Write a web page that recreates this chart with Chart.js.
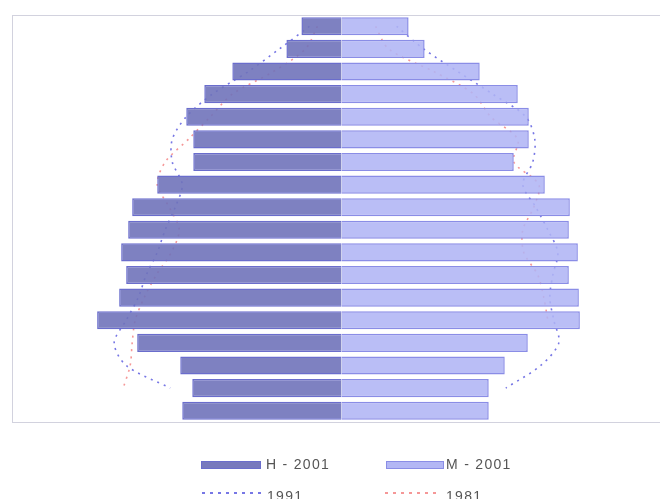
<!DOCTYPE html>
<html><head><meta charset="utf-8">
<script src="https://cdn.jsdelivr.net/npm/chart.js@4/dist/chart.umd.min.js"></script>
<style>
html,body{margin:0;padding:0;background:#fff;overflow:hidden;width:660px;height:499px;}
#wrap{position:absolute;left:0;top:0;width:672px;height:499px;}
.lg{position:absolute;font-family:"Liberation Sans",Arial,sans-serif;font-size:14px;line-height:14px;letter-spacing:1.3px;color:#555;white-space:nowrap;}
.sw{position:absolute;}
</style></head><body>
<div id="wrap"><canvas id="c" width="672" height="499"></canvas></div>
<div id="legend"></div>
<script>
// Age groups, oldest at the top
const ageGroups = ["85+","80-84","75-79","70-74","65-69","60-64","55-59","50-54","45-49","40-44","35-39","30-34","25-29","20-24","15-19","10-14","5-9","0-4"];
// 2001 bars (men left, women right)
const men2001   = [40,55,109,137,155,148,148,184,209,213,220,215,222,244,204,161,149,159];
const women2001 = [67,83,138,176,187,187,172,203,228,227,236,227,237,238,186,163,147,147];
// 1991 outline
const men1991   = [32,62,93,129,155,169,169,159,166,176,184,195,203,215,227,215,171,null];
const women1991 = [55,82,116,151,184,193,191,181,194,206,216,211,208,212,217,199,164,null];
// 1981 outline
const men1981   = [24,36,68,109,131,153,176,184,172,162,170,185,197,206,209,211,218,null];
const women1981 = [34,47,92,132,149,176,172,197,192,181,182,196,202,206,null,null,null,null];
const legendLabels = ["H - 2001","M - 2001","1991","1981"];

const C = {
  men: "#7779bd", menA: "rgba(112,115,186,0.9)", menBorder: "#6a6dcc",
  women: "#b3b7f4", womenA: "rgba(176,180,245,0.87)", womenBorder: "#8a8de6",
  y1991: "rgba(95,95,225,0.85)", y1981: "rgba(244,140,140,0.9)"
};
const neg = a => a.map(v => v === null ? null : -v);

const frame = {
  id: 'frame',
  beforeDatasetsDraw(chart) {
    const a = chart.chartArea, ctx = chart.ctx;
    ctx.save();
    ctx.strokeStyle = "#d2d2de";
    ctx.lineWidth = 1;
    ctx.strokeRect(Math.round(a.left) + 0.5, Math.round(a.top) + 0.5, Math.round(a.right - a.left), Math.round(a.bottom - a.top));
    ctx.restore();
  }
};

function lineDs(data, color, label) {
  return {
    type: 'line', label, data, indexAxis: 'y',
    borderColor: color, backgroundColor: color, borderWidth: 1.6,
    borderDash: [2, 5], pointRadius: 0, fill: false, tension: 0.3,
    order: 5
  };
}

new Chart(document.getElementById('c'), {
  type: 'bar',
  data: {
    labels: ageGroups,
    datasets: [
      { label: legendLabels[0], data: neg(men2001), backgroundColor: C.menA, borderColor: C.menBorder,
        borderWidth: 1.5, barPercentage: 0.8, categoryPercentage: 1, grouped: false, order: 1 },
      { label: legendLabels[1], data: women2001, backgroundColor: C.womenA, borderColor: C.womenBorder,
        borderWidth: 1.5, barPercentage: 0.8, categoryPercentage: 1, grouped: false, order: 1 },
      lineDs(neg(men1981), C.y1981, legendLabels[3]),
      lineDs(women1981, C.y1981, legendLabels[3]),
      lineDs(neg(men1991), C.y1991, legendLabels[2]),
      lineDs(women1991, C.y1991, legendLabels[2])
    ]
  },
  options: {
    indexAxis: 'y',
    responsive: false,
    animation: false,
    devicePixelRatio: 1,
    layout: { padding: { left: 12, top: 15, right: 1, bottom: 77 } },
    scales: {
      x: { type: 'linear', min: -329, max: 329, display: false },
      y: { type: 'category', offset: true, display: false }
    },
    plugins: { legend: { display: false }, tooltip: { enabled: false } }
  },
  plugins: [frame]
});

// HTML legend
const lg = document.getElementById('legend');
const items = [
  { label: legendLabels[0], kind: 'box', fill: C.men, border: C.menBorder, x: 201, w: 58, tx: 266, row: 0 },
  { label: legendLabels[1], kind: 'box', fill: C.women, border: C.womenBorder, x: 386, w: 56, tx: 446, row: 0 },
  { label: legendLabels[2], kind: 'dash', fill: C.y1991, x: 202, w: 60, tx: 267, row: 1 },
  { label: legendLabels[3], kind: 'dash', fill: C.y1981, x: 385, w: 55, tx: 446, row: 1 }
];
const rowTop = [457, 489];
const rowMid = [465, 493];
items.forEach(it => {
  const s = document.createElement('div');
  s.className = 'sw';
  s.style.left = it.x + 'px';
  s.style.width = it.w + 'px';
  if (it.kind === 'box') {
    s.style.top = (rowMid[it.row] - 4) + 'px';
    s.style.height = '6px';
    s.style.background = it.fill;
    s.style.border = '1px solid ' + it.border;
  } else {
    s.style.top = (rowMid[it.row] - 1) + 'px';
    s.style.height = '2px';
    s.style.background = 'repeating-linear-gradient(to right,' + it.fill + ' 0 3px, transparent 3px 8px)';
  }
  lg.appendChild(s);
  const t = document.createElement('div');
  t.className = 'lg';
  t.style.left = it.tx + 'px';
  t.style.top = rowTop[it.row] + 'px';
  t.textContent = it.label;
  lg.appendChild(t);
});
</script>
</body></html>
